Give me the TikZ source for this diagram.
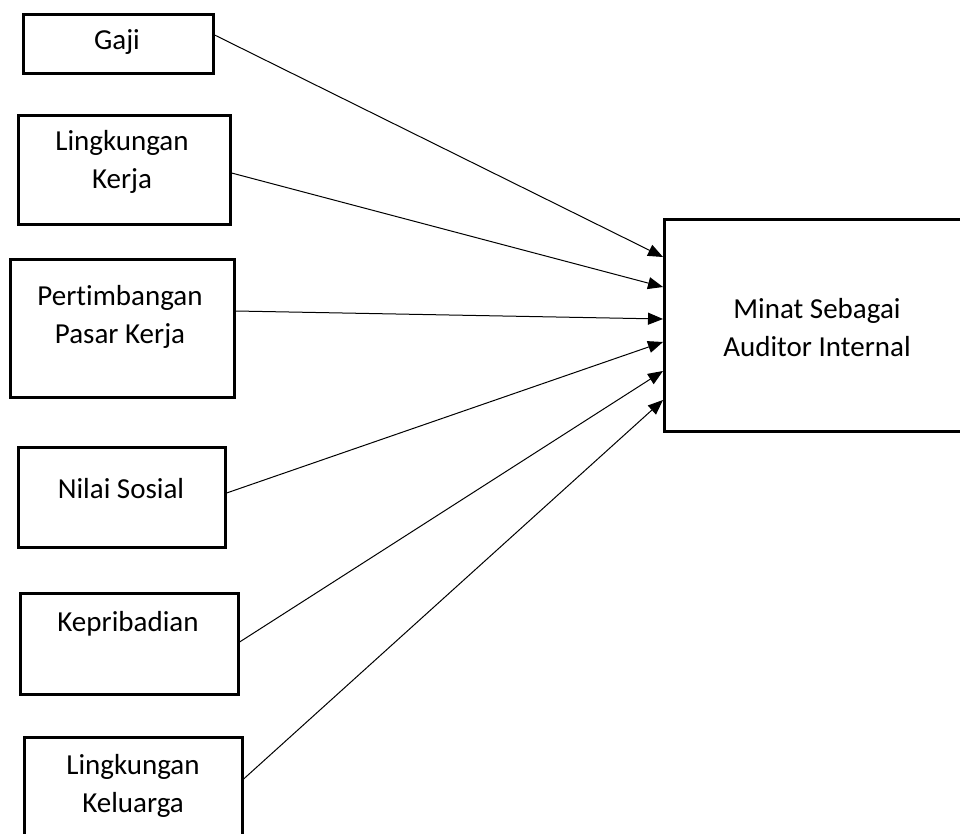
\documentclass[tikz,border=0pt]{standalone}
\usepackage{fontspec}
\setmainfont{Carlito}[Ligatures=NoCommon]
\usetikzlibrary{arrows.meta}
\tikzset{
  box/.style={draw=black, line width=2.6pt, rectangle, inner sep=0pt, anchor=north west},
  lbl/.style={inner sep=0pt, align=center, font=\fontsize{29}{38}\selectfont},
  arr/.style={line width=1pt, -{Triangle[length=15pt,width=12pt]}}
}
\begin{document}
\begin{tikzpicture}[x=1pt,y=-1pt]
\useasboundingbox (0,0) rectangle (960,834);
\fill[white] (0,0) rectangle (960,834);
% boxes
\node[box, minimum width=190pt, minimum height=59pt]  (gaji) at (22,13) {};
\node[box, minimum width=212pt, minimum height=109pt] (lk)   at (17,114) {};
\node[box, minimum width=224pt, minimum height=138pt] (pk)   at (9,258) {};
\node[box, minimum width=207pt, minimum height=100pt] (ns)   at (17,446) {};
\node[box, minimum width=218pt, minimum height=101pt] (kp)   at (19,592) {};
\node[box, minimum width=218pt, minimum height=140pt] (lkel) at (23,736) {};
\node[box, minimum width=340pt, minimum height=212pt] (tgt)  at (663,218) {};
% labels
\node[lbl] (tgaji) at (117,42) {Gaji};
\node[lbl] (tlk)   at (122,162) {Lingkungan\\Kerja};
\node[lbl] (tpk)   at (120,317) {Pertimbangan\\Pasar Kerja};
\node[lbl] (tns)   at (121,489) {Nilai Sosial};
\node[lbl] (tkp)   at (128,624) {Kepribadian};
\node[lbl] (tlkel) at (133,786) {Lingkungan\\Keluarga};
\node[lbl] (ttgt)  at (817,328) {Minat Sebagai\\Auditor Internal};
% connectors
\draw[arr] (gaji.east |- 0,35)  -- (tgt.west |- 0,257);
\draw[arr] (lk.east |- 0,173)   -- (tgt.west |- 0,287);
\draw[arr] (pk.east |- 0,311)   -- (tgt.west |- 0,319);
\draw[arr] (ns.east |- 0,493)   -- (tgt.west |- 0,342);
\draw[arr] (kp.east |- 0,642)   -- (tgt.west |- 0,371);
\draw[arr] (lkel.east |- 0,779) -- (tgt.west |- 0,400);
\end{tikzpicture}
\end{document}
